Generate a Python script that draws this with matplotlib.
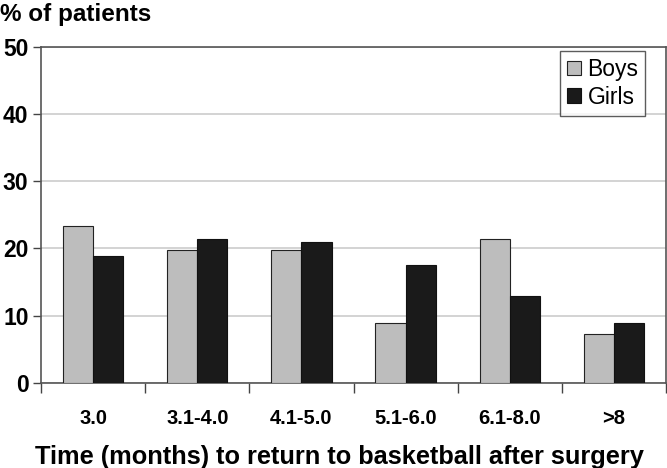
import numpy as np
import matplotlib
matplotlib.use("Agg")
import matplotlib.pyplot as plt

# data
categories = ['3.0', '3.1-4.0', '4.1-5.0', '5.1-6.0', '6.1-8.0', '>8']
boys = [23.3, 19.7, 19.7, 8.9, 21.4, 7.2]
girls = [18.8, 21.4, 21.0, 17.6, 12.9, 8.9]

plt.rcParams['font.family'] = ['Liberation Sans', 'DejaVu Sans']

fig = plt.figure(figsize=(6.67, 4.68), dpi=100)
ax = fig.add_axes([0.0615, 0.182, 0.937, 0.718])

x = np.arange(len(categories))
w = 0.29
ax.bar(x - w / 2, boys, w, color='#bdbdbd', edgecolor='#222222', linewidth=0.8, label='Boys', zorder=3)
ax.bar(x + w / 2, girls, w, color='#1a1a1a', edgecolor='#111111', linewidth=0.8, label='Girls', zorder=3)

ax.set_xlim(-0.5, len(categories) - 0.5)
ax.set_ylim(0, 50)
ax.set_yticks(range(0, 51, 10))
ax.yaxis.grid(True, color='#cccccc', linewidth=1.2, zorder=0)
ax.set_axisbelow(True)

# category labels centred, ticks on the boundaries
ax.set_xticks(x)
ax.set_xticklabels(categories, fontsize=14.5, fontweight='bold')
ax.set_xticks(np.arange(-0.5, len(categories)), minor=True)
ax.tick_params(axis='x', which='major', length=0, pad=19)
ax.tick_params(axis='x', which='minor', length=7, width=1, color='#444444', direction='out')
ax.tick_params(axis='y', length=6, width=1, color='#444444', labelsize=16.5, pad=3)
for lbl in ax.get_yticklabels():
    lbl.set_fontweight('bold')

for side in ['left', 'bottom', 'top', 'right']:
    ax.spines[side].set_color('#555555')
    ax.spines[side].set_linewidth(1.2)

ax.set_xlabel('Time (months) to return to basketball after surgery', fontsize=18.3,
              fontweight='bold')
ax.xaxis.set_label_coords(0.478, -0.222, transform=ax.transAxes)
ax.xaxis.label.set_va('center')
fig.text(0.0, 0.97, '% of patients', fontsize=17.5, fontweight='bold', ha='left', va='center')

leg = ax.legend(loc='upper right', bbox_to_anchor=(0.967, 0.987), fontsize=16.5, frameon=True,
                fancybox=False, edgecolor='#333333', handlelength=0.6, handleheight=0.6,
                handletextpad=0.3, borderpad=0.3, labelspacing=0.2, borderaxespad=0)
leg.get_frame().set_linewidth(1.0)

fig.savefig('out.png', dpi=100)
